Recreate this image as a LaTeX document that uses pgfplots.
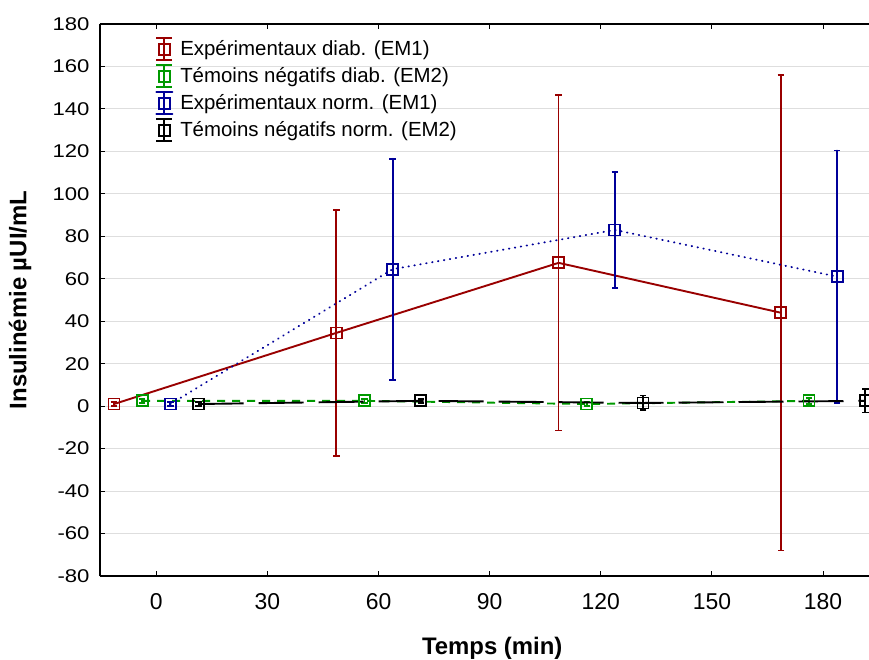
\documentclass[border=0pt]{standalone}
\usepackage{fontspec}
\setmainfont{Liberation Sans}
\newfontfamily\wide[FakeStretch=1.2]{Liberation Sans}
\usepackage{pgfplots}
\pgfplotsset{compat=1.18}
\definecolor{cred}{RGB}{153,0,0}
\definecolor{cgreen}{RGB}{0,153,0}
\definecolor{cblue}{RGB}{0,0,153}
\definecolor{cgrid}{RGB}{222,222,222}
\pgfplotsset{
  errlegend/.style={legend image code/.code={
    \draw[##1, solid, mark=none, line width=1.8bp] (0bp,-11bp) -- (0bp,11bp) (-8bp,11bp) -- (8bp,11bp) (-8bp,-11bp) -- (8bp,-11bp);
    \draw[##1, solid, mark=none, line width=1.8bp] (-5.5bp,-5.5bp) rectangle (5.5bp,5.5bp);
  }},
  serie/.style={#1, line width=1.9bp, mark=square, mark size=5.5bp, mark options={solid, line width=1.8bp},
    error bars/.cd, y dir=both, y explicit,
    error bar style={line width=1.8bp, solid, #1},
    error mark options={rotate=90, mark size=3.2bp, line width=1.8bp, solid, #1},
    /pgfplots/.cd},
}
\begin{document}
\begin{tikzpicture}
\begin{axis}[
  scale only axis, width=769bp, height=552bp,
  xmin=-15.2, xmax=192.4, ymin=-80, ymax=180,
  xtick={0,30,...,180}, ytick={-80,-60,...,180},
  axis y line*=left,
  ymajorgrids, grid style={cgrid, line width=1bp},
  major tick length=5bp,
  tick style={black, line width=1bp},
  axis line style={line width=1.5bp},
  /pgf/number format/assume math mode=true,
  xticklabel style={font=\fontsize{23}{25}\selectfont, yshift=-14bp},
  yticklabel style={font=\wide\fontsize{18.5}{20}\selectfont, xshift=-7bp},
  xlabel={Temps (min)}, ylabel={Insulinémie µUI/mL},
  label style={font=\bfseries\fontsize{24}{26}\selectfont},
  xlabel style={at={(axis description cs:0.51,-0.1304)}, anchor=center},
  ylabel style={at={(axis description cs:-0.104,0.5)}, anchor=center},
  legend style={draw=none, fill=none, at={(axis description cs:0.068,0.98)}, anchor=north west,
    font=\fontsize{20.5}{23}\selectfont, row sep=3.2bp, column sep=5bp},
  legend cell align=left,
  errlegend,
]
\addplot[serie=cred] table[x=x, y=y, y error=e] {
x y e
-11.4 1 1
48.6 34.5 58
108.6 67.5 79
168.6 44 112
};
\addlegendentry{Expérimentaux diab. (EM1)}
\addplot[serie=cgreen, dash pattern=on 8bp off 7bp] table[x=x, y=y, y error=e] {
x y e
-3.8 2.5 1
56.2 2.5 1
116.2 1 1
176.2 2.5 1.5
};
\addlegendentry{Témoins négatifs diab. (EM2)}
\addplot[serie=cblue, line cap=round, dash pattern=on 0.5bp off 5.5bp] table[x=x, y=y, y error=e] {
x y e
3.8 1 1
63.8 64.5 52
123.8 83 27.3
183.8 61 59.4
};
\addlegendentry{Expérimentaux norm. (EM1)}
\addplot[serie=black, dash pattern=on 45bp off 15bp] table[x=x, y=y, y error=e] {
x y e
11.4 1 1
71.4 2.5 1
131.4 1.5 3.5
191.4 2.5 5.5
};
\addlegendentry{Témoins négatifs norm. (EM2)}
\coordinate (SW) at (rel axis cs:0,0);
\coordinate (NE) at (rel axis cs:1,1);
\end{axis}
\pgfresetboundingbox
\path ([shift={(-100bp,-84bp)}]SW) rectangle ([shift={(0bp,24bp)}]NE);
\end{tikzpicture}
\end{document}
